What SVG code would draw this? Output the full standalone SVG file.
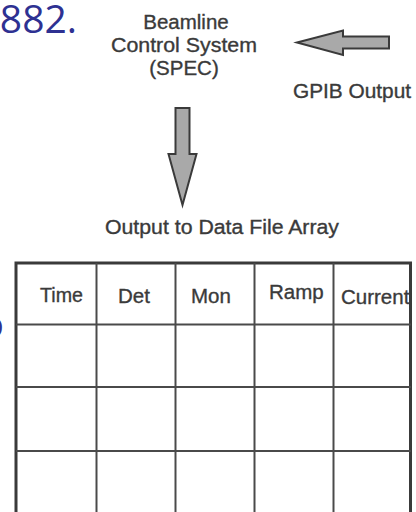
<svg xmlns="http://www.w3.org/2000/svg" width="416" height="512" viewBox="0 0 416 512">
<style>
.lbl{font-family:"Liberation Sans",Arial,sans-serif;font-size:20.5px;fill:#3a3a3a;stroke:#3a3a3a;stroke-width:0.35;text-anchor:middle}
.hdr{font-family:"Liberation Sans",Arial,sans-serif;font-size:20.5px;fill:#3a3a3a;stroke:#3a3a3a;stroke-width:0.35}
.blue{font-family:"Open Sans","Noto Sans",sans-serif;font-size:39px;fill:#2e3192;text-anchor:end}
.arrow{fill:#a9a9a9;stroke:#3a3a3a;stroke-width:2;stroke-linejoin:miter}
.grid{stroke:#4a4a4a;stroke-width:2;fill:none}
</style>
<rect width="416" height="512" fill="#ffffff"/>
<text class="blue" x="77" y="33">882.</text>
<text class="blue" x="4" y="338">o</text>
<g id="spec">
<text class="lbl" x="186" y="29">Beamline</text>
<text class="lbl" x="184" y="52" textLength="146" lengthAdjust="spacingAndGlyphs">Control System</text>
<text class="lbl" x="184" y="75">(SPEC)</text>
</g>
<g id="gpib">
<text class="lbl" x="352" y="98" textLength="118" lengthAdjust="spacingAndGlyphs">GPIB Output</text>
</g>
<g id="output-label">
<text class="lbl" x="222" y="234" textLength="234" lengthAdjust="spacingAndGlyphs">Output to Data File Array</text>
</g>
<g id="connectors">
<polygon class="arrow" points="297,42.5 343,30.5 343,36.5 389,36.5 389,48.5 343,48.5 343,55"/>
<polygon class="arrow" points="175.5,108 189.5,108 189.5,154 196.5,154 182.5,205 168.5,154 175.5,154"/>
</g>
<g id="table">
<rect x="16" y="263" width="394.5" height="260" fill="none" stroke="#3a3a3a" stroke-width="3"/>
<line class="grid" x1="16" y1="324.5" x2="411" y2="324.5"/>
<line class="grid" x1="16" y1="387" x2="411" y2="387"/>
<line class="grid" x1="16" y1="451" x2="411" y2="451"/>
<line class="grid" x1="96.5" y1="263" x2="96.5" y2="512"/>
<line class="grid" x1="175.5" y1="263" x2="175.5" y2="512"/>
<line class="grid" x1="254.5" y1="263" x2="254.5" y2="512"/>
<line class="grid" x1="333.5" y1="263" x2="333.5" y2="512"/>
<text class="hdr" x="40" y="302" textLength="43" lengthAdjust="spacingAndGlyphs">Time</text>
<text class="hdr" x="118" y="303">Det</text>
<text class="hdr" x="191" y="303">Mon</text>
<text class="hdr" x="269" y="299">Ramp</text>
<svg x="334" y="263" width="76" height="70" overflow="hidden"><text class="hdr" x="7" y="40.5">Current</text></svg>
</g>
</svg>
